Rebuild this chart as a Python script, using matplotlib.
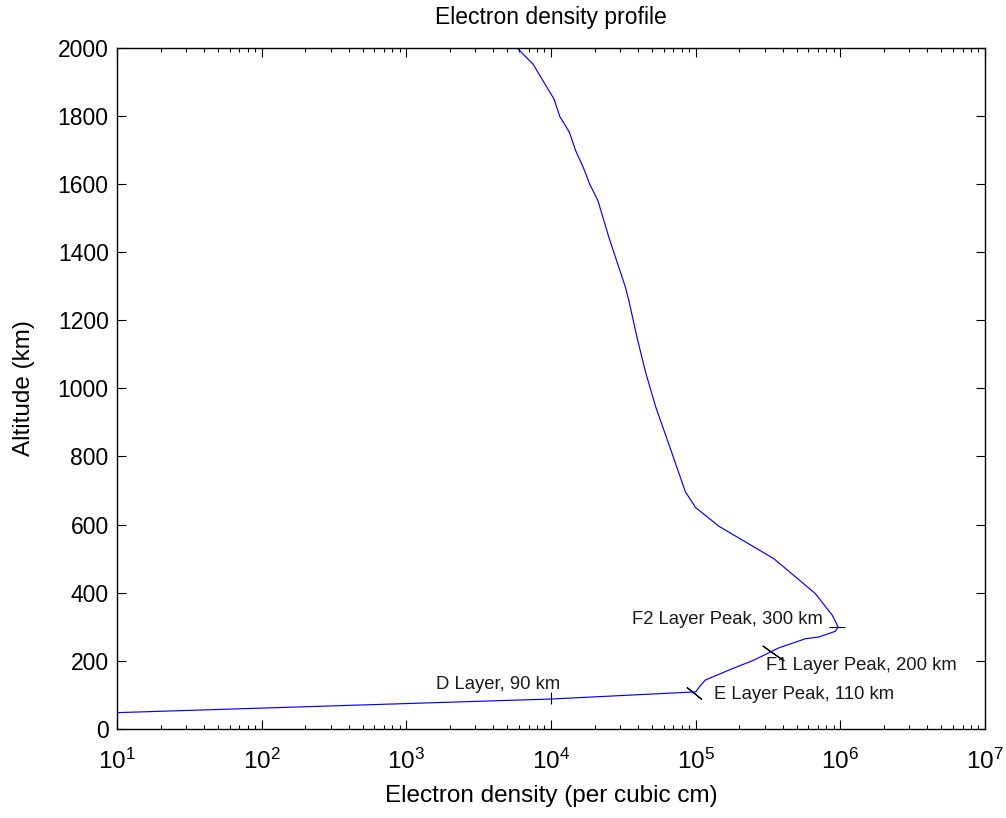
import matplotlib
matplotlib.use("Agg")
import matplotlib.pyplot as plt
import numpy as np

# Electron density profile (per cubic cm) vs altitude (km)
density = [10, 1.0e4, 1.0e5, 1.08e5, 1.17e5, 1.79e5, 2.52e5, 3.75e5, 5.74e5, 7.1e5, 9.25e5,
           9.65e5, 8.8e5, 6.7e5, 3.47e5, 1.45e5, 1.0e5, 8.5e4, 6.5e4, 5.3e4, 4.5e4,
           3.95e4, 3.45e4, 3.27e4, 2.79e4, 2.51e4, 2.11e4, 1.85e4, 1.67e4, 1.48e4,
           1.34e4, 1.15e4, 1.05e4, 8.47e3, 7.5e3, 5.8e3]
altitude = [48, 88, 109, 128, 144, 177, 202, 238, 265, 270, 287,
            300, 334, 398, 500, 595, 650, 696, 838, 945, 1048,
            1146, 1258, 1297, 1385, 1444, 1551, 1600, 1649, 1698,
            1752, 1798, 1849, 1915, 1952, 2000]

# Layer markers
layer_names = ["D Layer, 90 km", "E Layer Peak, 110 km", "F1 Layer Peak, 200 km", "F2 Layer Peak, 300 km"]
layer_density = [1.0e4, 9.7e4, 3.4e5, 9.5e5]
layer_alt = [90, 106, 224, 300]

yticks = list(range(0, 2001, 200))

plt.rcParams['font.family'] = ['Liberation Sans', 'DejaVu Sans']
plt.rcParams['mathtext.fontset'] = 'custom'
plt.rcParams['mathtext.rm'] = 'Liberation Sans'

fig = plt.figure(figsize=(10.06, 8.18), dpi=100)
ax = fig.add_axes([117/1006, 1 - 729/818, (985 - 117)/1006, (729 - 47.7)/818])

# markers (drawn under the curve)
ax.plot(layer_density[0], layer_alt[0], marker='|', color='black', markersize=8.6, mew=0.8, linestyle='none')
ax.plot(layer_density[1], layer_alt[1], marker=(2, 2, 51), color='black', markersize=13.7, mew=0.8, linestyle='none')
ax.plot(layer_density[2], layer_alt[2], marker=(2, 2, 55), color='black', markersize=18.9, mew=0.8, linestyle='none')
ax.plot(layer_density[3], layer_alt[3], marker='_', color='black', markersize=12, mew=0.8, linestyle='none')

ax.plot(density, altitude, color='#0000ff', linewidth=0.85)

tfs = 13.3
ax.text(1600, 131, layer_names[0], ha='left', va='center', fontsize=tfs, color='#1a1a1a')
ax.text(1.337e5, 102, layer_names[1], ha='left', va='center', fontsize=tfs, color='#1a1a1a')
ax.text(3.04e5, 185, layer_names[2], ha='left', va='center', fontsize=tfs, color='#1a1a1a')
ax.text(7.57e5, 320, layer_names[3], ha='right', va='center', fontsize=tfs, color='#1a1a1a')

ax.set_xscale('log')
ax.set_xlim(10, 1e7)
ax.set_ylim(0, 2000)
ax.set_yticks(yticks)
ax.set_yticklabels([str(v) for v in yticks])

ax.tick_params(which='both', direction='in', top=True, right=True, labelsize=16.5, width=0.8)
ax.tick_params(which='major', length=6.5)
ax.tick_params(which='minor', length=3.2)
ax.tick_params(axis='x', which='major', pad=14, labelsize=17.5)
ax.tick_params(axis='y', which='major', pad=6)
for s in ax.spines.values():
    s.set_linewidth(1.0)

ax.set_xlabel('Electron density (per cubic cm)', fontsize=17.5, labelpad=8)
ax.set_ylabel('Altitude (km)', fontsize=17.5, labelpad=16)
ax.set_title('Electron density profile', fontsize=16.5, pad=17)

fig.savefig('out.png', dpi=100)
